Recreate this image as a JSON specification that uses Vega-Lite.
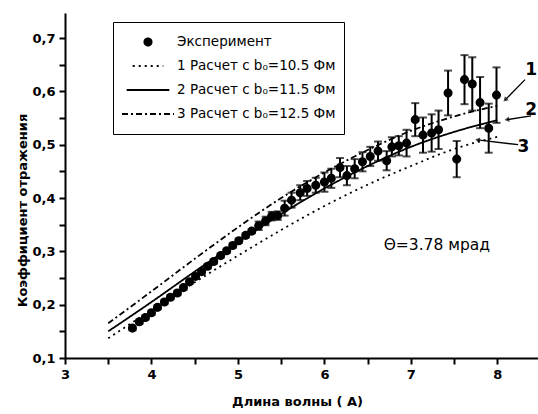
{
  "$schema": "https://vega.github.io/schema/vega-lite/v6.json",
  "width": 473,
  "height": 345,
  "autosize": {"type": "none"},
  "padding": {"left": 65, "top": 13, "right": 0, "bottom": 56},
  "background": "white",
  "config": {
    "view": {"stroke": null},
    "font": "DejaVu Sans",
    "legend": {
      "orient": "none", "legendX": 48, "legendY": 9,
      "strokeColor": "black", "fillColor": "white",
      "padding": 8, "clipHeight": 24, "rowPadding": 0,
      "symbolStrokeWidth": 2, "symbolStrokeColor": "black",
      "labelFont": "DejaVu Sans", "labelFontSize": 13.5, "labelColor": "black", "labelOffset": 2, "labelLimit": 400
    }
  },
  "datasets": {
    "exp": [
      {"wl": 3.78, "r": 0.156, "lo": 0.152, "hi": 0.160, "s": "Эксперимент"},
      {"wl": 3.86, "r": 0.168, "lo": 0.164, "hi": 0.172, "s": "Эксперимент"},
      {"wl": 3.93, "r": 0.176, "lo": 0.172, "hi": 0.180, "s": "Эксперимент"},
      {"wl": 4.00, "r": 0.185, "lo": 0.181, "hi": 0.189, "s": "Эксперимент"},
      {"wl": 4.07, "r": 0.195, "lo": 0.191, "hi": 0.199, "s": "Эксперимент"},
      {"wl": 4.15, "r": 0.205, "lo": 0.201, "hi": 0.209, "s": "Эксперимент"},
      {"wl": 4.22, "r": 0.214, "lo": 0.210, "hi": 0.218, "s": "Эксперимент"},
      {"wl": 4.30, "r": 0.222, "lo": 0.218, "hi": 0.226, "s": "Эксперимент"},
      {"wl": 4.37, "r": 0.232, "lo": 0.228, "hi": 0.236, "s": "Эксперимент"},
      {"wl": 4.44, "r": 0.243, "lo": 0.239, "hi": 0.247, "s": "Эксперимент"},
      {"wl": 4.51, "r": 0.253, "lo": 0.249, "hi": 0.257, "s": "Эксперимент"},
      {"wl": 4.58, "r": 0.262, "lo": 0.258, "hi": 0.266, "s": "Эксперимент"},
      {"wl": 4.65, "r": 0.272, "lo": 0.268, "hi": 0.276, "s": "Эксперимент"},
      {"wl": 4.72, "r": 0.281, "lo": 0.277, "hi": 0.285, "s": "Эксперимент"},
      {"wl": 4.80, "r": 0.292, "lo": 0.288, "hi": 0.296, "s": "Эксперимент"},
      {"wl": 4.87, "r": 0.301, "lo": 0.297, "hi": 0.305, "s": "Эксперимент"},
      {"wl": 4.94, "r": 0.311, "lo": 0.307, "hi": 0.315, "s": "Эксперимент"},
      {"wl": 5.01, "r": 0.320, "lo": 0.316, "hi": 0.324, "s": "Эксперимент"},
      {"wl": 5.09, "r": 0.330, "lo": 0.326, "hi": 0.334, "s": "Эксперимент"},
      {"wl": 5.16, "r": 0.338, "lo": 0.334, "hi": 0.342, "s": "Эксперимент"},
      {"wl": 5.24, "r": 0.348, "lo": 0.340, "hi": 0.356, "s": "Эксперимент"},
      {"wl": 5.32, "r": 0.357, "lo": 0.349, "hi": 0.365, "s": "Эксперимент"},
      {"wl": 5.39, "r": 0.366, "lo": 0.358, "hi": 0.374, "s": "Эксперимент"},
      {"wl": 5.46, "r": 0.367, "lo": 0.359, "hi": 0.375, "s": "Эксперимент"},
      {"wl": 5.54, "r": 0.381, "lo": 0.367, "hi": 0.395, "s": "Эксперимент"},
      {"wl": 5.62, "r": 0.396, "lo": 0.382, "hi": 0.410, "s": "Эксперимент"},
      {"wl": 5.72, "r": 0.410, "lo": 0.396, "hi": 0.424, "s": "Эксперимент"},
      {"wl": 5.80, "r": 0.418, "lo": 0.404, "hi": 0.432, "s": "Эксперимент"},
      {"wl": 5.90, "r": 0.424, "lo": 0.410, "hi": 0.438, "s": "Эксперимент"},
      {"wl": 6.00, "r": 0.430, "lo": 0.412, "hi": 0.448, "s": "Эксперимент"},
      {"wl": 6.08, "r": 0.437, "lo": 0.419, "hi": 0.455, "s": "Эксперимент"},
      {"wl": 6.18, "r": 0.457, "lo": 0.439, "hi": 0.475, "s": "Эксперимент"},
      {"wl": 6.26, "r": 0.442, "lo": 0.424, "hi": 0.460, "s": "Эксперимент"},
      {"wl": 6.35, "r": 0.455, "lo": 0.437, "hi": 0.473, "s": "Эксперимент"},
      {"wl": 6.44, "r": 0.468, "lo": 0.450, "hi": 0.486, "s": "Эксперимент"},
      {"wl": 6.53, "r": 0.478, "lo": 0.460, "hi": 0.496, "s": "Эксперимент"},
      {"wl": 6.62, "r": 0.488, "lo": 0.470, "hi": 0.506, "s": "Эксперимент"},
      {"wl": 6.72, "r": 0.470, "lo": 0.452, "hi": 0.488, "s": "Эксперимент"},
      {"wl": 6.78, "r": 0.496, "lo": 0.478, "hi": 0.514, "s": "Эксперимент"},
      {"wl": 6.86, "r": 0.498, "lo": 0.480, "hi": 0.516, "s": "Эксперимент"},
      {"wl": 6.95, "r": 0.503, "lo": 0.478, "hi": 0.528, "s": "Эксперимент"},
      {"wl": 7.05, "r": 0.547, "lo": 0.516, "hi": 0.578, "s": "Эксперимент"},
      {"wl": 7.14, "r": 0.518, "lo": 0.485, "hi": 0.551, "s": "Эксперимент"},
      {"wl": 7.24, "r": 0.522, "lo": 0.487, "hi": 0.557, "s": "Эксперимент"},
      {"wl": 7.32, "r": 0.528, "lo": 0.492, "hi": 0.564, "s": "Эксперимент"},
      {"wl": 7.43, "r": 0.597, "lo": 0.555, "hi": 0.639, "s": "Эксперимент"},
      {"wl": 7.53, "r": 0.473, "lo": 0.439, "hi": 0.507, "s": "Эксперимент"},
      {"wl": 7.62, "r": 0.622, "lo": 0.576, "hi": 0.668, "s": "Эксперимент"},
      {"wl": 7.71, "r": 0.614, "lo": 0.564, "hi": 0.664, "s": "Эксперимент"},
      {"wl": 7.80, "r": 0.579, "lo": 0.531, "hi": 0.627, "s": "Эксперимент"},
      {"wl": 7.90, "r": 0.531, "lo": 0.485, "hi": 0.577, "s": "Эксперимент"},
      {"wl": 7.99, "r": 0.593, "lo": 0.541, "hi": 0.645, "s": "Эксперимент"}
    ],
    "calc": [
      {"wl": 3.5, "r": 0.137, "s": "1 Расчет с b₀=10.5 Фм"},
      {"wl": 4.0, "r": 0.190, "s": "1 Расчет с b₀=10.5 Фм"},
      {"wl": 4.5, "r": 0.242, "s": "1 Расчет с b₀=10.5 Фм"},
      {"wl": 5.0, "r": 0.292, "s": "1 Расчет с b₀=10.5 Фм"},
      {"wl": 5.5, "r": 0.340, "s": "1 Расчет с b₀=10.5 Фм"},
      {"wl": 6.0, "r": 0.385, "s": "1 Расчет с b₀=10.5 Фм"},
      {"wl": 6.5, "r": 0.425, "s": "1 Расчет с b₀=10.5 Фм"},
      {"wl": 7.0, "r": 0.460, "s": "1 Расчет с b₀=10.5 Фм"},
      {"wl": 7.5, "r": 0.492, "s": "1 Расчет с b₀=10.5 Фм"},
      {"wl": 8.0, "r": 0.515, "s": "1 Расчет с b₀=10.5 Фм"},
      {"wl": 3.5, "r": 0.150, "s": "2 Расчет с b₀=11.5 Фм"},
      {"wl": 4.0, "r": 0.205, "s": "2 Расчет с b₀=11.5 Фм"},
      {"wl": 4.5, "r": 0.262, "s": "2 Расчет с b₀=11.5 Фм"},
      {"wl": 5.0, "r": 0.317, "s": "2 Расчет с b₀=11.5 Фм"},
      {"wl": 5.5, "r": 0.370, "s": "2 Расчет с b₀=11.5 Фм"},
      {"wl": 6.0, "r": 0.418, "s": "2 Расчет с b₀=11.5 Фм"},
      {"wl": 6.5, "r": 0.460, "s": "2 Расчет с b₀=11.5 Фм"},
      {"wl": 7.0, "r": 0.496, "s": "2 Расчет с b₀=11.5 Фм"},
      {"wl": 7.5, "r": 0.524, "s": "2 Расчет с b₀=11.5 Фм"},
      {"wl": 8.0, "r": 0.546, "s": "2 Расчет с b₀=11.5 Фм"},
      {"wl": 3.5, "r": 0.165, "s": "3 Расчет с b₀=12.5 Фм"},
      {"wl": 4.0, "r": 0.225, "s": "3 Расчет с b₀=12.5 Фм"},
      {"wl": 4.5, "r": 0.286, "s": "3 Расчет с b₀=12.5 Фм"},
      {"wl": 5.0, "r": 0.345, "s": "3 Расчет с b₀=12.5 Фм"},
      {"wl": 5.5, "r": 0.400, "s": "3 Расчет с b₀=12.5 Фм"},
      {"wl": 6.0, "r": 0.448, "s": "3 Расчет с b₀=12.5 Фм"},
      {"wl": 6.5, "r": 0.490, "s": "3 Расчет с b₀=12.5 Фм"},
      {"wl": 7.0, "r": 0.526, "s": "3 Расчет с b₀=12.5 Фм"},
      {"wl": 7.5, "r": 0.553, "s": "3 Расчет с b₀=12.5 Фм"},
      {"wl": 8.0, "r": 0.573, "s": "3 Расчет с b₀=12.5 Фм"}
    ],
    "arrows": [
      {"n": "1", "wl": 8.32, "r": 0.622, "wl2": 8.09, "r2": 0.584},
      {"n": "2", "wl": 8.39, "r": 0.554, "wl2": 8.11, "r2": 0.547},
      {"n": "3", "wl": 8.24, "r": 0.500, "wl2": 7.77, "r2": 0.509}
    ],
    "heads": [
      {"n": "1", "wl": 8.09, "r": 0.584},
      {"n": "2", "wl": 8.11, "r": 0.547},
      {"n": "3", "wl": 7.77, "r": 0.509}
    ],
    "marks": [
      {"label": "1", "wl": 8.39, "r": 0.640},
      {"label": "2", "wl": 8.39, "r": 0.566},
      {"label": "3", "wl": 8.30, "r": 0.496}
    ],
    "note": [
      {"label": "Θ=3.78 мрад", "wl": 7.30, "r": 0.312}
    ]
  },
  "encoding": {
    "x": {
      "field": "wl",
      "type": "quantitative",
      "scale": {"domain": [3, 8.47], "nice": false, "zero": false},
      "axis": {
        "title": "Длина волны   ( A)",
        "values": [3, 3.5, 4, 4.5, 5, 5.5, 6, 6.5, 7, 7.5, 8],
        "labelExpr": "round(datum.value*2) % 2 == 1 ? '' : format(datum.value, 'd')",
        "grid": false,
        "domainColor": "black",
        "domainWidth": 2,
        "tickColor": "black",
        "tickWidth": 2,
        "tickSize": 6,
        "labelPadding": 4,
        "labelFont": "DejaVu Sans",
        "labelFontWeight": "bold",
        "labelFontSize": 13,
        "labelColor": "black",
        "labelFlush": false,
        "labelOverlap": false,
        "titleFont": "DejaVu Sans",
        "titleFontWeight": "bold",
        "titleFontSize": 13,
        "titleColor": "black",
        "titleX": 232,
        "titleY": 43,
        "titleBaseline": "middle",
        "encode": {"ticks": {"update": {"y2": {"signal": "round(datum.value*2) % 2 == 1 ? 3 : 6"}}}}
      }
    },
    "y": {
      "field": "r",
      "type": "quantitative",
      "scale": {"domain": [0.1, 0.747], "nice": false, "zero": false},
      "axis": {
        "title": "Коэффициент отражения",
        "values": [0.1, 0.15, 0.2, 0.25, 0.3, 0.35, 0.4, 0.45, 0.5, 0.55, 0.6, 0.65, 0.7],
        "labelExpr": "round(datum.value*20) % 2 == 1 ? '' : replace(format(datum.value, '.1f'), '.', ',')",
        "grid": false,
        "domainColor": "black",
        "domainWidth": 2,
        "tickColor": "black",
        "tickWidth": 2,
        "tickSize": 6,
        "labelPadding": 4,
        "labelFont": "DejaVu Sans",
        "labelFontWeight": "bold",
        "labelFontSize": 13,
        "labelColor": "black",
        "labelFlush": false,
        "labelOverlap": false,
        "titleFont": "DejaVu Sans",
        "titleFontWeight": "bold",
        "titleFontSize": 13,
        "titleColor": "black",
        "titleX": -43,
        "titleY": 197,
        "titleAngle": -90,
        "titleAlign": "center",
        "titleBaseline": "middle",
        "encode": {"ticks": {"update": {"x2": {"signal": "round(datum.value*20) % 2 == 1 ? -3 : -6"}}}}
      }
    }
  },
  "layer": [
    {
      "data": {"name": "calc"},
      "mark": {"type": "line", "color": "black", "strokeWidth": 1.8, "interpolate": "monotone"},
      "encoding": {
        "detail": {"field": "s"},
        "strokeDash": {
          "field": "s",
          "type": "nominal",
          "scale": {
            "domain": ["Эксперимент", "1 Расчет с b₀=10.5 Фм", "2 Расчет с b₀=11.5 Фм", "3 Расчет с b₀=12.5 Фм"],
            "range": [[1, 0], [2, 4], [1, 0], [6, 3, 2, 3]]
          },
          "legend": {"title": null}
        }
      }
    },
    {
      "data": {"name": "exp"},
      "mark": {"type": "rule", "color": "black", "strokeWidth": 2},
      "encoding": {
        "y": {"field": "lo", "type": "quantitative"},
        "y2": {"field": "hi"}
      }
    },
    {
      "data": {"name": "exp"},
      "mark": {"type": "tick", "orient": "horizontal", "color": "black", "size": 8, "thickness": 2},
      "encoding": {
        "y": {"field": "lo", "type": "quantitative"}
      }
    },
    {
      "data": {"name": "exp"},
      "mark": {"type": "tick", "orient": "horizontal", "color": "black", "size": 8, "thickness": 2},
      "encoding": {
        "y": {"field": "hi", "type": "quantitative"}
      }
    },
    {
      "data": {"name": "exp"},
      "mark": {"type": "point", "filled": true, "opacity": 1},
      "encoding": {
        "shape": {
          "field": "s",
          "type": "nominal",
          "scale": {
            "domain": ["Эксперимент", "1 Расчет с b₀=10.5 Фм", "2 Расчет с b₀=11.5 Фм", "3 Расчет с b₀=12.5 Фм"],
            "range": ["circle", "stroke", "stroke", "stroke"]
          },
          "legend": {"title": null}
        },
        "fill": {
          "field": "s",
          "type": "nominal",
          "scale": {
            "domain": ["Эксперимент", "1 Расчет с b₀=10.5 Фм", "2 Расчет с b₀=11.5 Фм", "3 Расчет с b₀=12.5 Фм"],
            "range": ["black", "transparent", "transparent", "transparent"]
          },
          "legend": {"title": null}
        },
        "stroke": {
          "field": "s",
          "type": "nominal",
          "scale": {
            "domain": ["Эксперимент", "1 Расчет с b₀=10.5 Фм", "2 Расчет с b₀=11.5 Фм", "3 Расчет с b₀=12.5 Фм"],
            "range": ["black", "black", "black", "black"]
          },
          "legend": {"title": null}
        },
        "size": {
          "field": "s",
          "type": "nominal",
          "scale": {
            "domain": ["Эксперимент", "1 Расчет с b₀=10.5 Фм", "2 Расчет с b₀=11.5 Фм", "3 Расчет с b₀=12.5 Фм"],
            "range": [50, 2704, 2704, 2704]
          },
          "legend": {"title": null}
        }
      }
    },
    {
      "data": {"name": "arrows"},
      "mark": {"type": "rule", "color": "black", "strokeWidth": 1.3},
      "encoding": {
        "x2": {"field": "wl2"},
        "y2": {"field": "r2"}
      }
    },
    {
      "data": {"name": "heads"},
      "transform": [{"filter": "datum.n == '1'"}],
      "mark": {"type": "point", "shape": "triangle-up", "filled": true, "color": "black", "size": 30, "angle": 225}
    },
    {
      "data": {"name": "heads"},
      "transform": [{"filter": "datum.n == '2'"}],
      "mark": {"type": "point", "shape": "triangle-up", "filled": true, "color": "black", "size": 30, "angle": 260}
    },
    {
      "data": {"name": "heads"},
      "transform": [{"filter": "datum.n == '3'"}],
      "mark": {"type": "point", "shape": "triangle-up", "filled": true, "color": "black", "size": 30, "angle": 277}
    },
    {
      "data": {"name": "marks"},
      "mark": {"type": "text", "font": "DejaVu Sans", "fontWeight": "bold", "fontSize": 17, "color": "black", "align": "center", "baseline": "middle"},
      "encoding": {"text": {"field": "label"}}
    },
    {
      "data": {"name": "note"},
      "mark": {"type": "text", "font": "DejaVu Sans", "fontSize": 15.5, "color": "black", "align": "center", "baseline": "middle"},
      "encoding": {"text": {"field": "label"}}
    }
  ]
}
